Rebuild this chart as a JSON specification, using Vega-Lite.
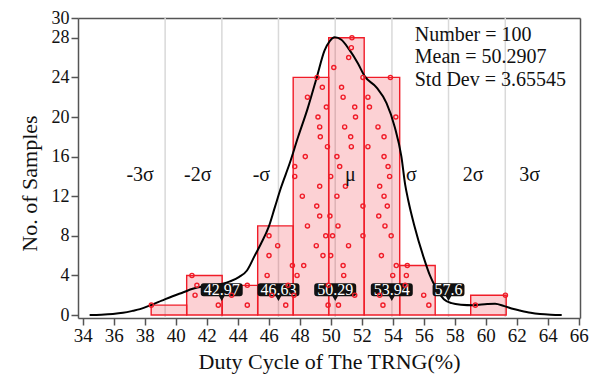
{
  "$schema": "https://vega.github.io/schema/vega-lite/v6.json",
  "width": 502,
  "height": 300,
  "autosize": "none",
  "padding": {"left": 78, "top": 18, "right": 20, "bottom": 59},
  "background": "white",
  "config": {
    "font": "Liberation Serif",
    "view": {"stroke": null},
    "axis": {
      "grid": false,
      "domainColor": "#555555",
      "domainWidth": 1.5,
      "tickColor": "#555555",
      "tickWidth": 1.5,
      "tickSize": 7,
      "labelColor": "#111111",
      "titleColor": "#111111",
      "labelFont": "Liberation Serif",
      "titleFont": "Liberation Serif",
      "titleFontWeight": "normal",
      "titleFontSize": 22,
      "labelFlush": false,
      "labelOverlap": false
    }
  },
  "resolve": {"axis": {"x": "independent", "y": "independent"}},
  "datasets": {
    "sigma": [
      {"x": 39.32}, {"x": 42.98}, {"x": 46.63}, {"x": 50.29}, {"x": 53.95}, {"x": 57.6}, {"x": 61.26}
    ],
    "bins": [
      {"start": 38.42, "end": 40.71, "count": 1},
      {"start": 40.71, "end": 43.0, "count": 4},
      {"start": 43.0, "end": 45.29, "count": 3},
      {"start": 45.29, "end": 47.58, "count": 9},
      {"start": 47.58, "end": 49.87, "count": 24},
      {"start": 49.87, "end": 52.16, "count": 28},
      {"start": 52.16, "end": 54.45, "count": 24},
      {"start": 54.45, "end": 56.74, "count": 5},
      {"start": 56.74, "end": 59.03, "count": 0},
      {"start": 59.03, "end": 61.32, "count": 2}
    ],
    "curve": [
      {"x": 34.45, "d": 0}, {"x": 35.2, "d": 0.03}, {"x": 35.95, "d": 0.1}, {"x": 36.6, "d": 0.22},
      {"x": 37.25, "d": 0.43}, {"x": 37.7, "d": 0.6}, {"x": 38.4, "d": 1.0}, {"x": 39.1, "d": 1.45},
      {"x": 39.8, "d": 1.9}, {"x": 40.5, "d": 2.3}, {"x": 41.1, "d": 2.65}, {"x": 41.8, "d": 2.9},
      {"x": 42.5, "d": 3.05}, {"x": 43.1, "d": 3.18}, {"x": 43.5, "d": 3.4}, {"x": 44.1, "d": 3.85},
      {"x": 44.6, "d": 4.5}, {"x": 45.1, "d": 6.0}, {"x": 45.5, "d": 7.2}, {"x": 46.0, "d": 8.9},
      {"x": 46.4, "d": 10.9}, {"x": 46.8, "d": 12.9}, {"x": 47.35, "d": 15.3}, {"x": 47.9, "d": 18.0},
      {"x": 48.5, "d": 20.8}, {"x": 49.1, "d": 24.0}, {"x": 49.6, "d": 26.7}, {"x": 49.95, "d": 27.7},
      {"x": 50.26, "d": 28.05}, {"x": 50.69, "d": 27.8}, {"x": 51.2, "d": 26.8}, {"x": 51.76, "d": 25.4},
      {"x": 52.2, "d": 24.1}, {"x": 52.95, "d": 23.0}, {"x": 53.6, "d": 21.4}, {"x": 54.13, "d": 19.0},
      {"x": 54.56, "d": 16.0}, {"x": 54.8, "d": 13.2}, {"x": 55.0, "d": 11.6}, {"x": 55.4, "d": 9.0},
      {"x": 56.0, "d": 5.8}, {"x": 56.4, "d": 4.0}, {"x": 56.7, "d": 3.0}, {"x": 57.3, "d": 1.6},
      {"x": 57.8, "d": 1.2}, {"x": 58.4, "d": 1.05}, {"x": 59.2, "d": 1.0}, {"x": 60.1, "d": 1.12},
      {"x": 60.6, "d": 1.15}, {"x": 61.2, "d": 0.9}, {"x": 61.8, "d": 0.6}, {"x": 62.2, "d": 0.45},
      {"x": 62.9, "d": 0.22}, {"x": 63.5, "d": 0.1}, {"x": 64.2, "d": 0.03}, {"x": 64.9, "d": 0}
    ],
    "callouts": [
      {"x": 42.97, "label": "42.97"},
      {"x": 46.63, "label": "46.63"},
      {"x": 50.29, "label": "50.29"},
      {"x": 53.94, "label": "53.94"},
      {"x": 57.6, "label": "57.6"}
    ],
    "labels": [
      {"x": 37.71, "label": "-3σ"},
      {"x": 41.42, "label": "-2σ"},
      {"x": 45.53, "label": "-σ"},
      {"x": 51.26, "label": "μ"},
      {"x": 55.2, "label": "σ"},
      {"x": 59.18, "label": "2σ"},
      {"x": 62.83, "label": "3σ"}
    ],
    "points": [
      {"v": 38.43, "k": 1},
      {"v": 41.05, "k": 4}, {"v": 41.37, "k": 3}, {"v": 41.25, "k": 2}, {"v": 42.75, "k": 1},
      {"v": 43.61, "k": 2}, {"v": 44.62, "k": 3}, {"v": 44.62, "k": 1},
      {"v": 46.02, "k": 8}, {"v": 46.58, "k": 7}, {"v": 46.02, "k": 6}, {"v": 47.53, "k": 5},
      {"v": 45.9, "k": 4}, {"v": 47.25, "k": 3}, {"v": 46.2, "k": 2}, {"v": 47.1, "k": 1},
      {"v": 49.12, "k": 24}, {"v": 49.46, "k": 23}, {"v": 48.5, "k": 22}, {"v": 49.72, "k": 21},
      {"v": 49.18, "k": 20}, {"v": 49.29, "k": 19}, {"v": 49.33, "k": 18}, {"v": 49.79, "k": 17},
      {"v": 48.36, "k": 16}, {"v": 47.68, "k": 15}, {"v": 47.68, "k": 14}, {"v": 49.29, "k": 13},
      {"v": 48.17, "k": 12}, {"v": 49.1, "k": 11}, {"v": 49.29, "k": 10}, {"v": 48.5, "k": 9},
      {"v": 49.68, "k": 8}, {"v": 49.07, "k": 7}, {"v": 49.5, "k": 6}, {"v": 48.26, "k": 5},
      {"v": 47.83, "k": 4}, {"v": 49.85, "k": 3}, {"v": 47.63, "k": 2}, {"v": 49.83, "k": 1},
      {"v": 51.37, "k": 28}, {"v": 51.33, "k": 27}, {"v": 51.16, "k": 26}, {"v": 50.2, "k": 25},
      {"v": 52.08, "k": 24}, {"v": 50.7, "k": 23}, {"v": 50.8, "k": 22}, {"v": 51.55, "k": 21},
      {"v": 51.6, "k": 20}, {"v": 50.9, "k": 19}, {"v": 51.29, "k": 18}, {"v": 51.33, "k": 17},
      {"v": 50.4, "k": 16}, {"v": 50.58, "k": 15}, {"v": 50.0, "k": 14}, {"v": 50.95, "k": 13},
      {"v": 50.4, "k": 12}, {"v": 52.08, "k": 11}, {"v": 49.95, "k": 10}, {"v": 50.47, "k": 9},
      {"v": 50.12, "k": 8}, {"v": 52.08, "k": 8}, {"v": 51.15, "k": 7}, {"v": 50.0, "k": 6},
      {"v": 50.8, "k": 5}, {"v": 50.84, "k": 4}, {"v": 51.55, "k": 2}, {"v": 50.5, "k": 1},
      {"v": 53.85, "k": 24}, {"v": 52.4, "k": 22}, {"v": 52.5, "k": 21}, {"v": 54.2, "k": 20},
      {"v": 53.05, "k": 19}, {"v": 53.44, "k": 18}, {"v": 52.4, "k": 17}, {"v": 53.44, "k": 16},
      {"v": 53.7, "k": 15}, {"v": 53.8, "k": 14}, {"v": 53.16, "k": 13}, {"v": 53.44, "k": 12},
      {"v": 53.65, "k": 11}, {"v": 53.1, "k": 10}, {"v": 53.5, "k": 9}, {"v": 53.9, "k": 8},
      {"v": 53.27, "k": 6}, {"v": 54.23, "k": 5}, {"v": 54.0, "k": 4}, {"v": 53.16, "k": 2},
      {"v": 53.37, "k": 1},
      {"v": 54.94, "k": 5}, {"v": 54.88, "k": 4}, {"v": 54.8, "k": 3}, {"v": 56.0, "k": 2}, {"v": 56.33, "k": 1},
      {"v": 59.33, "k": 1}, {"v": 61.27, "k": 2}
    ]
  },
  "layer": [
    {
      "data": {"name": "sigma"},
      "mark": {"type": "rule", "color": "#d9d9d9", "strokeWidth": 1.5},
      "encoding": {
        "x": {
          "field": "x", "type": "quantitative",
          "scale": {"domain": [33.7, 66.08], "nice": false, "zero": false},
          "axis": {
            "title": "Duty Cycle of The TRNG(%)",
            "values": [34, 36, 38, 40, 42, 44, 46, 48, 50, 52, 54, 56, 58, 60, 62, 64, 66],
            "tickCount": 40,
            "labelFontSize": 19, "labelPadding": 1, "titlePadding": 6,
            "labelOverlap": false, "labelBound": false
          }
        }
      }
    },
    {
      "data": {"name": "bins"},
      "mark": {"type": "rect", "fill": "#f2182a", "fillOpacity": 0.2, "stroke": "#f01c28", "strokeWidth": 1.4},
      "encoding": {
        "x": {"field": "start", "type": "quantitative", "axis": null},
        "x2": {"field": "end"},
        "y": {
          "field": "count", "type": "quantitative",
          "scale": {"domain": [-0.3, 30], "nice": false, "zero": false},
          "axis": {
            "title": "No. of Samples",
            "values": [0, 4, 8, 12, 16, 20, 24, 28, 30],
            "tickCount": 40,
            "labelFontSize": 18, "labelPadding": 2, "titlePadding": 10,
            "titleY": 165,
            "labelOverlap": false, "labelBound": false
          }
        },
        "y2": {"datum": 0}
      }
    },
    {
      "data": {"name": "curve"},
      "mark": {"type": "line", "color": "black", "strokeWidth": 2, "interpolate": "monotone"},
      "encoding": {
        "x": {"field": "x", "type": "quantitative", "axis": {"orient": "top", "labels": false, "ticks": false, "title": null, "domainColor": "#555555", "domainWidth": 1.5}},
        "y": {"field": "d", "type": "quantitative", "axis": {"orient": "right", "labels": false, "ticks": false, "title": null, "domainColor": "#555555", "domainWidth": 1.5}}
      }
    },
    {
      "data": {"name": "callouts"},
      "mark": {"type": "point", "filled": true, "color": "#111111", "opacity": 1, "size": 1764},
      "encoding": {
        "x": {"field": "x", "type": "quantitative", "axis": null},
        "y": {"datum": 2.55, "axis": null},
        "shape": {
          "condition": {
            "test": "datum.label === '57.6'",
            "value": "M-0.62,-0.31 L0.62,-0.31 Q0.76,-0.31 0.76,-0.17 L0.76,0.17 Q0.76,0.31 0.62,0.31 L0.13,0.31 L0,0.53 L-0.13,0.31 L-0.62,0.31 Q-0.76,0.31 -0.76,0.17 L-0.76,-0.17 Q-0.76,-0.31 -0.62,-0.31 Z"
          },
          "value": "M-0.86,-0.31 L0.86,-0.31 Q1,-0.31 1,-0.17 L1,0.17 Q1,0.31 0.86,0.31 L0.13,0.31 L0,0.53 L-0.13,0.31 L-0.86,0.31 Q-1,0.31 -1,0.17 L-1,-0.17 Q-1,-0.31 -0.86,-0.31 Z"
        }
      }
    },
    {
      "data": {"name": "callouts"},
      "mark": {"type": "text", "color": "white", "fontSize": 16, "baseline": "middle", "align": "center", "font": "Liberation Serif"},
      "encoding": {
        "x": {"field": "x", "type": "quantitative", "axis": null},
        "y": {"datum": 2.55, "axis": null},
        "text": {"field": "label"}
      }
    },
    {
      "data": {"name": "points"},
      "mark": {"type": "point", "shape": "circle", "filled": false, "color": "#f01c28", "strokeWidth": 1.4, "size": 17, "opacity": 1},
      "encoding": {
        "x": {"field": "v", "type": "quantitative", "axis": null},
        "y": {"field": "k", "type": "quantitative", "axis": null}
      }
    },
    {
      "data": {"name": "labels"},
      "mark": {"type": "text", "fontSize": 20, "color": "#111111", "baseline": "middle", "align": "center", "font": "Liberation Serif"},
      "encoding": {
        "x": {"field": "x", "type": "quantitative", "axis": null},
        "y": {"datum": 14.14, "axis": null},
        "text": {"field": "label"}
      }
    },
    {
      "data": {"values": [{"t": "stats"}]},
      "mark": {"type": "text", "fontSize": 20, "color": "#111111", "baseline": "middle", "align": "left", "lineHeight": 22.5, "font": "Liberation Serif"},
      "encoding": {
        "x": {"datum": 55.42, "axis": null},
        "y": {"datum": 28.3, "axis": null},
        "text": {"value": ["Number = 100", "Mean = 50.2907", "Std Dev = 3.65545"]}
      }
    }
  ]
}
